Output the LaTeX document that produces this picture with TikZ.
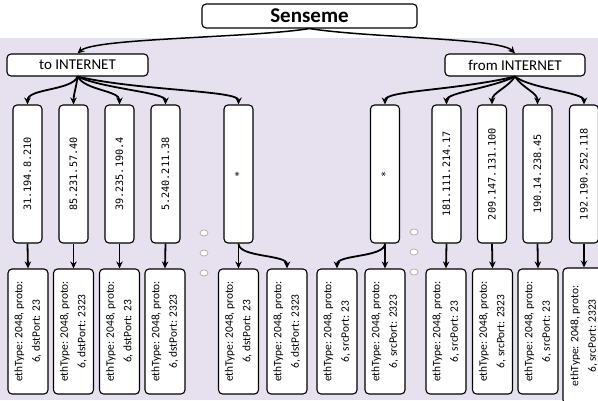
\documentclass[tikz,border=0pt]{standalone}
\usepackage{fontspec}
\setmainfont{Carlito}
\newfontfamily\ipfont{DejaVu Sans Mono}
\usetikzlibrary{arrows.meta}

\definecolor{lavender}{RGB}{231,225,239}

% boxes stand on end: east is the top, west the bottom
\tikzset{
    hdr/.style={draw, line width=1.1pt, rounded corners=4pt, fill=white, inner sep=0pt},
    ipbox/.style={draw, line width=1.1pt, rounded corners=4pt, fill=white, rotate=90,
        minimum width=138pt, minimum height=29pt, inner sep=0pt,
        font=\ipfont\fontsize{10.2}{12}\selectfont},
    rulebox/.style={draw, line width=1.1pt, rounded corners=4pt, fill=white, rotate=90,
        minimum width=125pt, minimum height=40pt, inner sep=0pt, align=center,
        font=\fontsize{11.4}{17.5}\selectfont},
    flow/.style={-{Stealth[length=7pt,width=6.5pt]}, line width=1.8pt},
    tree/.style={-{Stealth[length=7pt,width=6.5pt]}, line width=1.5pt},
    gap/.style={draw=gray!60, fill=white, line width=0.8pt}
}

\begin{document}
\begin{tikzpicture}[x=1pt, y=1pt]
    \useasboundingbox (0,0) rectangle (598,400);
    \fill[lavender] (0,0) rectangle (598,362);

    % Root and the two directions:
    \node[hdr, minimum width=215pt, minimum height=24pt, font=\bfseries\fontsize{21}{24}\selectfont] (senseme) at (309.5,384) {Senseme};
    \node[hdr, minimum width=141pt, minimum height=22pt, font=\fontsize{15}{18}\selectfont] (toinet) at (77.5,335) {to INTERNET};
    \node[hdr, minimum width=140pt, minimum height=22pt, font=\fontsize{15}{18}\selectfont] (frominet) at (515,335) {from INTERNET};
    \draw[tree] (senseme.south) .. controls (250,362) and (95,362) .. (toinet.north);
    \draw[tree] (senseme.south) .. controls (370,362) and (500,362) .. (frominet.north);

    % Addresses:
    \node[ipbox] (tip1) at (27.5,226) {31.194.8.210};
    \node[ipbox] (tip2) at (73.5,226) {85.231.57.40};
    \node[ipbox] (tip3) at (119.5,226) {39.235.190.4};
    \node[ipbox] (tip4) at (165.5,226) {5.240.211.38};
    \node[ipbox] (tipany) at (238.5,226) {*};
    \node[ipbox] (fipany) at (385,226) {*};
    \node[ipbox] (fip1) at (446.5,226) {181.111.214.17};
    \node[ipbox] (fip2) at (492,226) {209.147.131.100};
    \node[ipbox] (fip3) at (537.5,226) {190.14.238.45};
    \node[ipbox] (fip4) at (584,226) {192.190.252.118};

    \draw[flow] (toinet.south) .. controls +(-5,-14) and +(0,16) .. (tip1.east);
    \draw[flow] (toinet.south) .. controls +(-1,-10) and +(0,10) .. (tip2.east);
    \draw[flow] (toinet.south) .. controls +(8,-14) and +(0,14) .. (tip3.east);
    \draw[flow] (toinet.south) .. controls +(25,-12) and +(0,12) .. (tip4.east);
    \draw[flow] (toinet.south) .. controls +(60,-14) and +(0,14) .. (tipany.east);
    \draw[flow] (frominet.south) .. controls +(-60,-14) and +(0,14) .. (fipany.east);
    \draw[flow] (frominet.south) .. controls +(-25,-12) and +(0,12) .. (fip1.east);
    \draw[flow] (frominet.south) .. controls +(-8,-12) and +(0,12) .. (fip2.east);
    \draw[flow] (frominet.south) .. controls +(8,-12) and +(0,12) .. (fip3.east);
    \draw[flow] (frominet.south) .. controls +(15,-12) and +(0,12) .. (fip4.east);

    % Match rules:
    \node[rulebox] (tr1) at (28,68.5) {ethType: 2048, proto:\\6, dstPort: 23};
    \node[rulebox] (tr2) at (73.5,68.5) {ethType: 2048, proto:\\6, dstPort: 2323};
    \node[rulebox] (tr3) at (119.5,68.5) {ethType: 2048, proto:\\6, dstPort: 23};
    \node[rulebox] (tr4) at (165,68.5) {ethType: 2048, proto:\\6, dstPort: 2323};
    \node[rulebox] (tr5) at (238.5,68.5) {ethType: 2048, proto:\\6, dstPort: 23};
    \node[rulebox] (tr6) at (287,68.5) {ethType: 2048, proto:\\6, dstPort: 2323};
    \node[rulebox] (fr1) at (337,68.5) {ethType: 2048, proto:\\6, srcPort: 23};
    \node[rulebox] (fr2) at (385,68.5) {ethType: 2048, proto:\\6, srcPort: 2323};
    \node[rulebox] (fr3) at (446,68.5) {ethType: 2048, proto:\\6, srcPort: 23};
    \node[rulebox] (fr4) at (492.5,68.5) {ethType: 2048, proto:\\6, srcPort: 2323};
    \node[rulebox] (fr5) at (538,68.5) {ethType: 2048, proto:\\6, srcPort: 23};
    \node[rulebox, minimum width=136pt, minimum height=42pt] (fr6) at (584,64) {ethType: 2048, proto:\\6, srcPort: 2323};

    \draw[flow] (tip1.west) -- (tr1.east);
    \draw[flow] (tip2.west) -- (tr2.east);
    \draw[flow] (tip3.west) -- (tr3.east);
    \draw[flow] (tip4.west) -- (tr4.east);
    \draw[flow] (tipany.west) -- (tr5.east);
    \draw[flow] (tipany.west) .. controls +(0,-14) and +(0,14) .. (tr6.east);
    \draw[flow] (fipany.west) .. controls +(0,-14) and +(0,14) .. (fr1.east);
    \draw[flow] (fipany.west) -- (fr2.east);
    \draw[flow] (fip1.west) -- (fr3.east);
    \draw[flow] (fip2.west) -- (fr4.east);
    \draw[flow] (fip3.west) -- (fr5.east);
    \draw[flow] (fip4.west) -- (fr6.east);

    % Elided entries:
    \draw[gap] (204,167) ellipse [x radius=4pt, y radius=3pt];
    \draw[gap] (204,147) ellipse [x radius=4pt, y radius=3pt];
    \draw[gap] (204,127) ellipse [x radius=4pt, y radius=3pt];
    \draw[gap] (414,168) ellipse [x radius=4pt, y radius=3pt];
    \draw[gap] (414,148) ellipse [x radius=4pt, y radius=3pt];
    \draw[gap] (414,128) ellipse [x radius=4pt, y radius=3pt];
\end{tikzpicture}
\end{document}
